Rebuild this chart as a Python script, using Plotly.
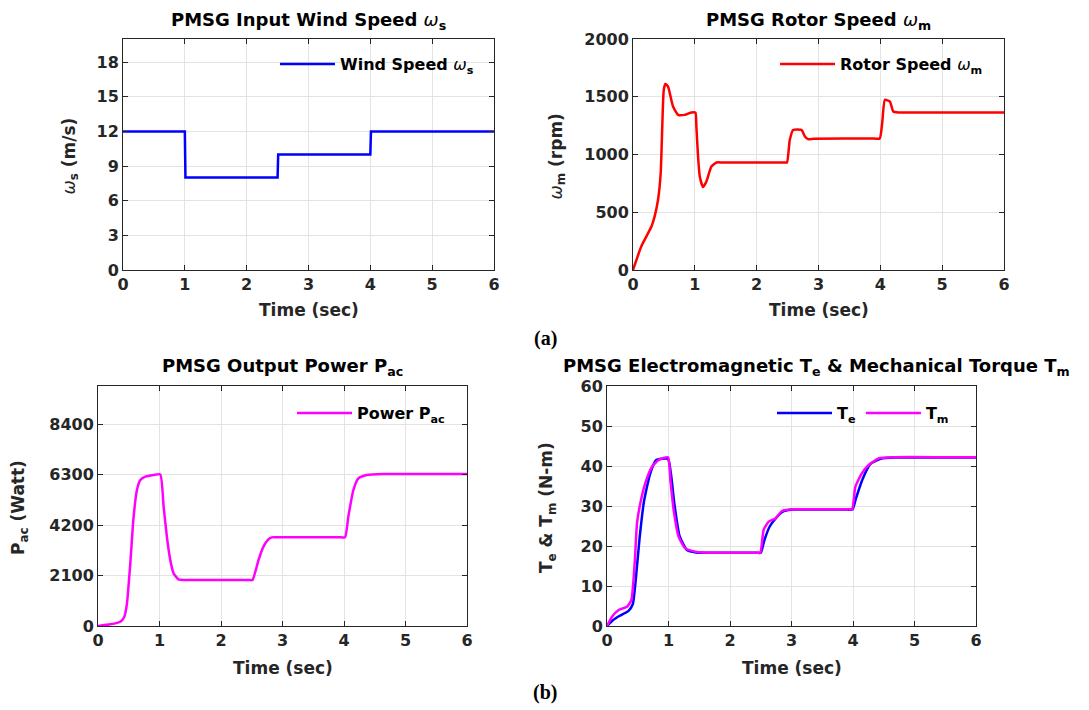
import plotly.graph_objects as go

# ---------------- data ----------------
t_wind = [0, 1.0, 1.01, 2.5, 2.51, 4.0, 4.01, 6.0]
wind_speed = [12, 12, 8, 8, 10, 10, 12, 12]

t_rotor = [0, 0.135, 0.3, 0.35, 0.405, 0.448, 0.47, 0.497, 0.523, 0.567, 0.648, 0.73, 0.836, 0.944,
           1.01, 1.025, 1.052, 1.08, 1.133, 1.187, 1.268, 1.35, 1.45, 2.45, 2.49, 2.536, 2.59, 2.725,
           2.78, 2.833, 2.92, 3.9, 3.99, 4.03, 4.074, 4.155, 4.209, 4.29, 4.4, 5.5, 6.0]
rotor_speed = [0, 205, 378, 464, 608, 839, 1184, 1559, 1611, 1588, 1415, 1343, 1343, 1363,
               1363, 1242, 983, 810, 718, 767, 896, 931, 931, 931, 931, 1127, 1213, 1213,
               1156, 1133, 1136, 1138, 1138, 1271, 1473, 1458, 1372, 1363, 1363, 1363, 1363]

t_power = [0, 0.2, 0.363, 0.428, 0.471, 0.525, 0.579, 0.633, 0.688, 0.769, 0.904, 1.012,
           1.067, 1.12, 1.175, 1.229, 1.31, 1.446, 1.55, 2.45, 2.512, 2.61, 2.69, 2.77, 2.826,
           2.92, 3.95, 4.017, 4.07, 4.152, 4.234, 4.37, 4.64, 5.5, 6.0]
power_ac = [0, 69, 180, 389, 944, 2610, 4554, 5665, 6082, 6220, 6290, 6318,
            4971, 3721, 2749, 2194, 1944, 1916, 1916, 1916, 1916, 2749, 3305, 3610, 3693,
            3693, 3693, 3693, 4554, 5665, 6151, 6290, 6331, 6331, 6331]

t_tm = [0, 0.081, 0.19, 0.325, 0.396, 0.45, 0.488, 0.542, 0.623, 0.732, 0.84, 0.992,
        1.03, 1.084, 1.165, 1.274, 1.436, 1.55, 2.45, 2.493, 2.547, 2.629, 2.737, 2.846, 3.008,
        3.1, 3.9, 3.984, 4.038, 4.146, 4.255, 4.417, 4.688, 5.5, 6.0]
torque_m = [0, 2.3, 4.0, 4.8, 6.5, 15.7, 25.7, 30.7, 35.7, 39.8, 41.5, 42.2,
            36.5, 29.0, 22.3, 19.4, 18.6, 18.4, 18.3, 18.3, 24.0, 26.1, 26.9, 28.75, 29.2,
            29.2, 29.2, 29.2, 34.8, 38.2, 40.25, 41.9, 42.2, 42.2, 42.2]

t_te = [0, 0.1, 0.2, 0.35, 0.42, 0.47, 0.53, 0.6, 0.7, 0.8, 0.99,
        1.04, 1.1, 1.18, 1.3, 1.45, 1.6, 2.45, 2.5, 2.56, 2.65, 2.75, 2.85, 3.0,
        3.1, 3.9, 3.99, 4.05, 4.15, 4.28, 4.45, 4.7, 5.5, 6.0]
torque_e = [0, 1.5, 2.5, 3.8, 5.5, 12, 22, 31, 38, 41.5, 41.8,
            38, 30, 22.5, 19, 18.4, 18.3, 18.3, 18.3, 21.5, 25, 27, 28.5, 29.1,
            29.1, 29.1, 29.1, 32, 36.5, 40.5, 41.8, 42.1, 42.1, 42.1]

x_ticks = [0, 1, 2, 3, 4, 5, 6]

# ---------------- figure ----------------
W, H = 1089, 710
def px(x):
    return x / W
def py(y):
    return 1 - y / H

fig = go.Figure()

FAM = "DejaVu Sans, Liberation Sans, Arial"
ax_color = "#262626"
grid_color = "#e3e3e3"
tfont = dict(family=FAM, size=16, color=ax_color, weight="bold")
lab_font = dict(family=FAM, size=17, color=ax_color, weight="bold")
OM = '<span style="font-weight:normal"><i>ω</i></span>'

panels = [
    # (axis suffix, x-domain px, y-domain px, y range, y ticks)
    ("", (123, 494), (39, 270), [0, 20], [0, 3, 6, 9, 12, 15, 18]),
    ("2", (633, 1004), (39, 270), [0, 2000], [0, 500, 1000, 1500, 2000]),
    ("3", (98, 467), (386, 626), [0, 10000], [0, 2100, 4200, 6300, 8400]),
    ("4", (607, 976), (386, 626), [0, 60], [0, 10, 20, 30, 40, 50, 60]),
]
ytitles = [OM + "<sub>s</sub> (m/s)", OM + "<sub>m</sub> (rpm)",
           "P<sub>ac</sub> (Watt)", "T<sub>e</sub> & T<sub>m</sub> (N-m)"]
ytitle_x = [70, 557, 19, 547]

layout_axes = {}
for i, (n, xd, yd, yr, yt) in enumerate(panels):
    xa = dict(domain=[px(xd[0]), px(xd[1])], range=[0, 6], tickvals=x_ticks,
              ticks="inside", ticklen=5, tickcolor=ax_color, showline=True, linecolor=ax_color,
              linewidth=1, mirror="ticks", showgrid=True, gridcolor=grid_color, zeroline=False,
              tickfont=tfont, anchor="y" + n, automargin=False)
    ya = dict(domain=[py(yd[1]), py(yd[0])], range=yr, tickvals=yt,
              ticks="inside", ticklen=5, tickcolor=ax_color, showline=True, linecolor=ax_color,
              linewidth=1, mirror="ticks", showgrid=True, gridcolor=grid_color, zeroline=False,
              tickfont=tfont, anchor="x" + n, automargin=False)
    layout_axes["xaxis" + n] = xa
    layout_axes["yaxis" + n] = ya

spl = dict(shape="spline", smoothing=0.5)
fig.add_trace(go.Scatter(x=t_wind, y=wind_speed, mode="lines", line=dict(color="#0000ff", width=2.5),
                         name="Wind Speed " + OM + "<sub>s</sub>", xaxis="x", yaxis="y", legend="legend"))
fig.add_trace(go.Scatter(x=t_rotor, y=rotor_speed, mode="lines",
                         line=dict(color="#ff0000", width=2.5, **spl),
                         name="Rotor Speed " + OM + "<sub>m</sub>", xaxis="x2", yaxis="y2", legend="legend2"))
fig.add_trace(go.Scatter(x=t_power, y=power_ac, mode="lines",
                         line=dict(color="#ff00ff", width=2.5, **spl),
                         name="Power P<sub>ac</sub>", xaxis="x3", yaxis="y3", legend="legend3"))
fig.add_trace(go.Scatter(x=t_te, y=torque_e, mode="lines",
                         line=dict(color="#0000ff", width=2.5, **spl),
                         name="T<sub>e</sub>", xaxis="x4", yaxis="y4", legend="legend4"))
fig.add_trace(go.Scatter(x=t_tm, y=torque_m, mode="lines",
                         line=dict(color="#ff00ff", width=2.5, **spl),
                         name="T<sub>m</sub>", xaxis="x4", yaxis="y4", legend="legend4"))

leg_font = dict(family=FAM, size=16, color="#000000", weight="bold")
def leg(x, y, orient="v"):
    return dict(x=x, y=y, xanchor="left", yanchor="middle", bgcolor="rgba(0,0,0,0)",
                borderwidth=0, font=leg_font, orientation=orient, itemwidth=55)

fig.update_layout(
    width=W, height=H, margin=dict(l=0, r=0, t=0, b=0, autoexpand=False),
    paper_bgcolor="white", plot_bgcolor="white", showlegend=True,
    legend=leg(px(275), py(64)),
    legend2=leg(px(775), py(64)),
    legend3=leg(px(292), py(413)),
    legend4=leg(px(772), py(413), "h"),
    **layout_axes,
)

def note(txt, x, y, font, angle=0):
    fig.add_annotation(text=txt, x=px(x), y=py(y), xref="paper", yref="paper",
                       showarrow=False, font=font, xanchor="center", yanchor="middle",
                       textangle=angle)

title_font = dict(family=FAM, size=18, color="#000000", weight="bold")
titles = [
    ("PMSG Input Wind Speed " + OM + "<sub>s</sub>", (123 + 494) / 2, 21),
    ("PMSG Rotor Speed " + OM + "<sub>m</sub>", (633 + 1004) / 2, 21),
    ("PMSG Output Power P<sub>ac</sub>", (98 + 467) / 2, 367),
    ("PMSG Electromagnetic T<sub>e</sub> & Mechanical Torque T<sub>m</sub>", 816, 367),
]
for txt, x, y in titles:
    note(txt, x, y, title_font)

# axis titles
for i, (n, xd, yd, yr, yt) in enumerate(panels):
    xt_y = 310 if yd[0] < 300 else 668
    note("Time (sec)", (xd[0] + xd[1]) / 2, xt_y, lab_font)
    note(ytitles[i], ytitle_x[i], (yd[0] + yd[1]) / 2 + 2, lab_font, angle=-90)

for txt, y in [("(a)", 338), ("(b)", 692)]:
    note(txt, 545, y, dict(family="Liberation Serif, Times New Roman", size=20, color="#000000",
                           weight="bold"))

fig.write_html("out.html")
